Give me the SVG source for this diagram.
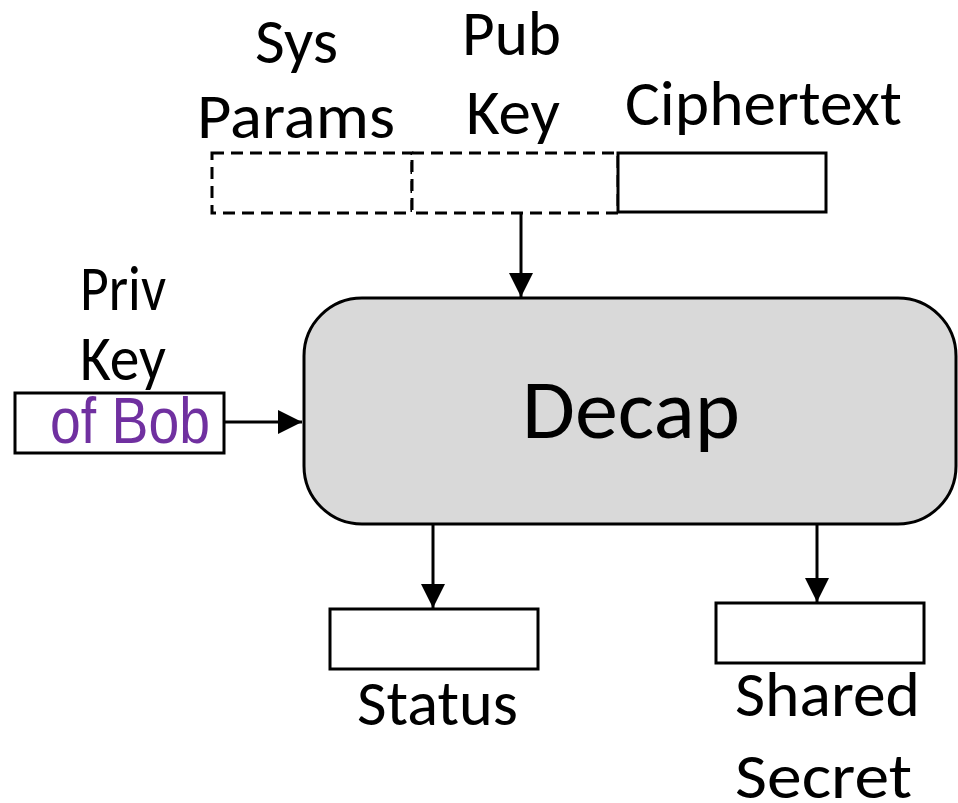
<svg xmlns="http://www.w3.org/2000/svg" width="958" height="803" viewBox="0 0 958 803">
<defs>
<style>
.lbl{font-family:Carlito,Calibri,Lato,"Open Sans",sans-serif;font-size:64px;fill:#000}
.box{fill:#fff;stroke:#000;stroke-width:3}
.dash{fill:#fff;stroke:#000;stroke-width:3;stroke-dasharray:12 7}
.conn{stroke:#000;stroke-width:3;fill:none}
</style>
<marker id="ah" viewBox="0 0 24 24" refX="24" refY="12" markerWidth="24" markerHeight="24" markerUnits="userSpaceOnUse" orient="auto">
<path d="M0,0 L24,12 L0,24 Z" fill="#000"/>
</marker>
</defs>
<rect width="958" height="803" fill="#fff"/>
<g id="sysparams">
<rect class="dash" x="212" y="153" width="200" height="60"/>
<text class="lbl" x="255" y="63" textLength="83" lengthAdjust="spacingAndGlyphs">Sys</text>
<text class="lbl" x="197" y="138" textLength="198" lengthAdjust="spacingAndGlyphs">Params</text>
</g>
<g id="pubkey">
<rect class="dash" x="412" y="153" width="206" height="60"/>
<text class="lbl" x="462" y="55" textLength="99" lengthAdjust="spacingAndGlyphs">Pub</text>
<text class="lbl" x="466" y="134" textLength="94" lengthAdjust="spacingAndGlyphs">Key</text>
</g>
<g id="ciphertext">
<rect class="box" x="618" y="153" width="208" height="59"/>
<text class="lbl" x="625" y="125" textLength="277" lengthAdjust="spacingAndGlyphs">Ciphertext</text>
</g>
<g id="privkey">
<rect class="box" x="15" y="393" width="209" height="60"/>
<text class="lbl" x="80" y="310" textLength="86" lengthAdjust="spacingAndGlyphs">Priv</text>
<text class="lbl" x="80" y="380" textLength="86" lengthAdjust="spacingAndGlyphs">Key</text>
<text x="50" y="443" font-family="'Liberation Sans',Arial,sans-serif" font-size="64" fill="#7030A0" textLength="160" lengthAdjust="spacingAndGlyphs">of Bob</text>
</g>
<g id="decap">
<rect x="304" y="298" width="652" height="226" rx="58" ry="58" fill="#d9d9d9" stroke="#000" stroke-width="3"/>
<text class="lbl" x="522" y="438" font-size="84" style="font-size:84px" textLength="218" lengthAdjust="spacingAndGlyphs">Decap</text>
</g>
<g id="status">
<rect class="box" x="330" y="609" width="208" height="60"/>
<text class="lbl" x="357" y="725" textLength="161" lengthAdjust="spacingAndGlyphs">Status</text>
</g>
<g id="sharedsecret">
<rect class="box" x="716" y="603" width="208" height="60"/>
<text class="lbl" x="735" y="716" textLength="185" lengthAdjust="spacingAndGlyphs">Shared</text>
<text class="lbl" x="735" y="798" textLength="177" lengthAdjust="spacingAndGlyphs">Secret</text>
</g>
<g id="connectors">
<line class="conn" x1="521" y1="213" x2="521" y2="297" marker-end="url(#ah)"/>
<line class="conn" x1="224" y1="422" x2="302" y2="422" marker-end="url(#ah)"/>
<line class="conn" x1="433" y1="524" x2="433" y2="608" marker-end="url(#ah)"/>
<line class="conn" x1="817" y1="524" x2="817" y2="602" marker-end="url(#ah)"/>
</g>
</svg>
